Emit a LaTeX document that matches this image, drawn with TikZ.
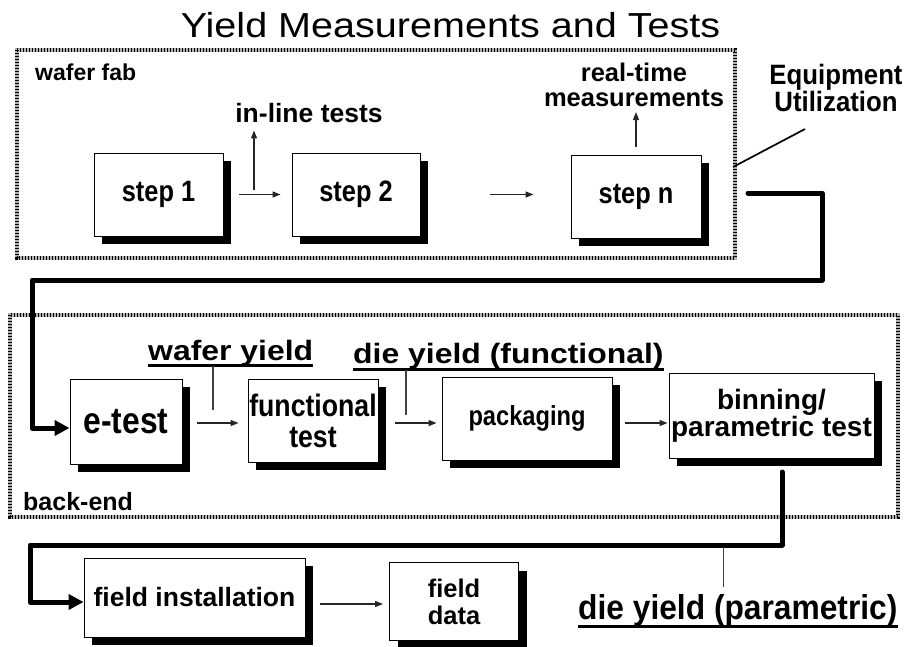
\documentclass[tikz,border=0pt]{standalone}
\usepackage{fontspec}
\setmainfont{Liberation Sans}
\newfontfamily\fwide{Liberation Sans}[FakeStretch=1.14]
\newfontfamily\fnorm{Liberation Sans}
\newfontfamily\fmid{Liberation Sans}[FakeStretch=0.92]
\newfontfamily\fcond{Liberation Sans}[FakeStretch=0.86]
\usetikzlibrary{arrows.meta,shadows}

\newcommand\fsz[2]{\fontsize{#1}{#2}\selectfont}

\tikzset{
  hatch/.style={preaction={draw=black!30, line width=4.5pt},
                draw=black, line width=4.5pt, dash pattern=on 1.3pt off 1.7pt},
  box/.style={draw, line width=0.9pt, fill=white, inner sep=0pt, align=center,
              general shadow={fill=black, shadow xshift=8pt, shadow yshift=-8pt}},
  lbl/.style={inner sep=0pt, align=center},
  ullbl/.style={inner sep=0pt},
  uline/.style={line width=3pt},
  arr/.style={line width=1.3pt, draw=black!85, -{Triangle[length=8pt,width=6pt]}},
  tick/.style={line width=1.3pt, draw=black!75},
  flow/.style={line width=5pt, line join=round, line cap=round,
               -{Triangle[length=15pt,width=15pt]}},
}

\begin{document}
\begin{tikzpicture}[x=1pt,y=-1pt]
\useasboundingbox (0,0) rectangle (912,646);

% title
\node[anchor=base, inner sep=0pt, font=\fwide\fsz{34.7}{40}] (title) at (450.5,37)
  {Yield Measurements and Tests};

% process regions
\draw[hatch] (17,50) rectangle (735,258);
\draw[hatch] (10,315) rectangle (898,517);
\node[anchor=base west, inner sep=0pt, font=\fnorm\bfseries\fsz{23}{26}] (fab) at (35,80) {wafer fab};
\node[anchor=base west, inner sep=0pt, font=\fnorm\bfseries\fsz{25}{28}] (backend) at (23,510) {back-end};

% wafer fab steps
\node[box, minimum width=129pt, minimum height=83pt, font=\fcond\bfseries\fsz{29.5}{32}] (s1) at (158.5,194.5) {step 1};
\node[box, minimum width=128pt, minimum height=83pt, font=\fcond\bfseries\fsz{29.5}{32}] (s2) at (356,194.5) {step 2};
\node[box, minimum width=130pt, minimum height=83pt, font=\fcond\bfseries\fsz{29.5}{32}] (sn) at (636,196.5) {step n};

% back-end steps
\node[box, minimum width=112pt, minimum height=85pt, font=\fcond\bfseries\fsz{37}{40}] (et) at (126,421.5) {e-test};
\node[box, minimum width=130pt, minimum height=83pt, font=\fcond\bfseries\fsz{31}{31}] (fu) at (313,420.5) {functional\\test};
\node[box, minimum width=170pt, minimum height=83pt, font=\fcond\bfseries\fsz{27.5}{30}] (pk) at (527,418.5) {packaging};
\node[box, minimum width=205pt, minimum height=85pt, font=\fnorm\bfseries\fsz{28}{25.5}] (bn) at (771.5,415.5) {binning/\\parametric test};

% field
\node[box, minimum width=221pt, minimum height=79pt, font=\fnorm\bfseries\fsz{26.5}{30}] (fi) at (194.5,597.5) {field installation};
\node[box, minimum width=129pt, minimum height=78pt, font=\fnorm\bfseries\fsz{25.5}{27}] (fd) at (454,601.5) {field\\data};

% measurement labels in the fab
\node[lbl, anchor=base, font=\fnorm\bfseries\fsz{26.5}{30}] (inl) at (309,122) {in-line tests};
\node[lbl, anchor=south, font=\fnorm\bfseries\fsz{25.5}{25}] (rtm) at (634,107) {real-time\\measurements};
\node[lbl, anchor=south, font=\fmid\bfseries\fsz{28}{27}] (eq) at (836,112) {Equipment\\Utilization};

% yield labels
\node[ullbl, anchor=base west, font=\fwide\bfseries\fsz{28}{32}] (wy) at (148,360) {wafer yield};
\draw[uline] ([yshift=-5.5pt]wy.base west) -- ([yshift=-5.5pt]wy.base east);
\node[ullbl, anchor=base west, font=\fwide\bfseries\fsz{28}{32}] (dyf) at (353,363) {die yield (functional)};
\draw[uline] ([yshift=-6pt]dyf.base west) -- ([yshift=-6pt]dyf.base east);
\node[ullbl, anchor=base west, font=\fmid\bfseries\fsz{34.5}{38}] (dyp) at (578,619) {die yield (parametric)};
\draw[uline] ([yshift=-7pt]dyp.base west) -- ([yshift=-7pt]dyp.base east);

% fab flow
\draw[arr, shorten <=16pt, shorten >=11pt] (s1.east) -- (s2.east -| s2.west);
\coordinate (j1) at (254,190);
\draw[arr, shorten >=8pt] (j1) -- (j1 |- inl.south);
\draw[arr, shorten <=70pt, shorten >=37pt] (s2.east) -- (s2.east -| sn.west);
\draw[arr, shorten <=8pt, shorten >=5pt] (sn.north) -- (sn.north |- rtm.south);
\coordinate (eqa) at (733,167);
\coordinate (eqb) at (805,129);
\draw[line width=1.7pt] (eqa) -- (eqb);

% wafer fab to back-end
\coordinate (c1) at (748,193);
\draw[flow] (c1) -- (822,193) -- (822,280) -- (32,280) -- (32,428) -- (et.west |- 32,428);

% back-end flow
\draw[arr, shorten <=15pt, shorten >=9pt] (et.east |- 0,423) -- (fu.west |- 0,423);
\draw[arr, shorten <=17pt, shorten >=5pt] (fu.east |- 0,423) -- (pk.west |- 0,423);
\draw[arr, shorten <=13pt, shorten >=1pt] (pk.east |- 0,423) -- (bn.west |- 0,423);
\coordinate (wya) at (213,366);
\coordinate (wyb) at (213,410);
\draw[tick] (wya) -- (wyb);
\coordinate (dfa) at (406,370);
\coordinate (dfb) at (406,415);
\draw[tick] (dfa) -- (dfb);

% back-end to field
\coordinate (c2) at (782,472);
\draw[flow] (c2) -- (782,545) -- (30,545) -- (30,602) -- (fi.west |- 30,602);
\coordinate (dpa) at (723,547);
\coordinate (dpb) at (723,587);
\draw[tick, line width=1pt] (dpa) -- (dpb);
\draw[arr, shorten <=15pt, shorten >=6pt] (fi.east |- 0,604) -- (fd.west |- 0,604);
\end{tikzpicture}
\end{document}
